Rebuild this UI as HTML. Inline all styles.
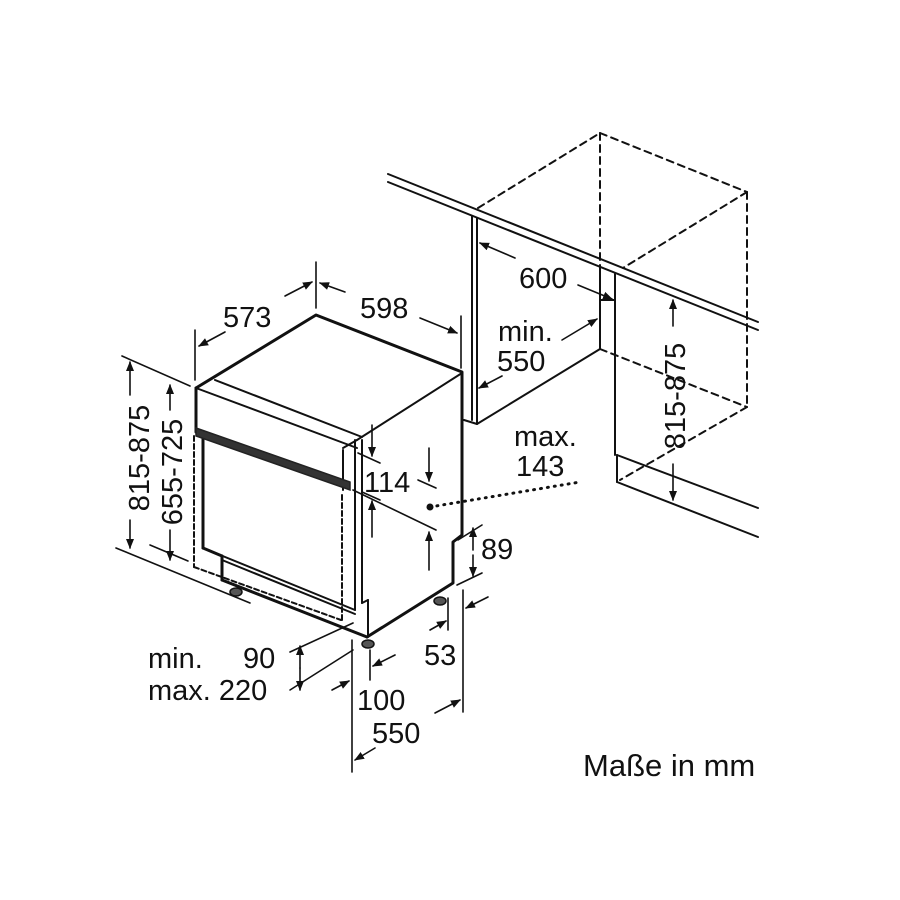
<!DOCTYPE html>
<html><head><meta charset="utf-8"><style>
html,body{margin:0;padding:0;background:#fff;}
svg{display:block}
text{font-family:"Liberation Sans",sans-serif;font-size:29px;fill:#111}
</style></head><body>
<svg width="900" height="900" viewBox="0 0 900 900" xmlns="http://www.w3.org/2000/svg">
<defs>
<marker id="a" markerWidth="10" markerHeight="10" refX="9" refY="5" orient="auto" markerUnits="userSpaceOnUse" viewBox="0 0 10 10">
<path d="M0,1 L10,5 L0,9 Z" fill="#111"/></marker>
</defs>
<g stroke="#111" fill="none" stroke-linecap="round">
<g stroke-width="2">
<line x1="388" y1="174" x2="758" y2="322"/>
<line x1="388" y1="182" x2="758" y2="330"/>
<line x1="472" y1="216" x2="472" y2="420"/>
<line x1="477" y1="218" x2="477" y2="424"/>
<line x1="464" y1="420" x2="477" y2="424"/>
<line x1="477" y1="424" x2="600" y2="349"/>
<line x1="600" y1="268" x2="600" y2="349"/>
<line x1="615" y1="274" x2="615" y2="455"/>
<line x1="600" y1="300" x2="615" y2="300"/>
<line x1="617" y1="455" x2="758" y2="508"/>
<line x1="617" y1="455" x2="617" y2="482"/>
<line x1="617" y1="482" x2="758" y2="537"/>
</g>
<g stroke-width="2" stroke-dasharray="7,5">
<line x1="478" y1="208" x2="600" y2="133"/>
<line x1="600" y1="133" x2="747" y2="192"/>
<line x1="600" y1="133" x2="600" y2="268"/>
<line x1="747" y1="192" x2="747" y2="407"/>
<line x1="747" y1="192" x2="623" y2="268"/>
<line x1="600" y1="349" x2="747" y2="407"/>
<line x1="747" y1="407" x2="620" y2="480"/>
</g>
<g stroke-width="3" stroke-linejoin="round">
<polyline points="196,388 316,315 462,372 462,535 453,542 453,583 367,637"/>
<line x1="196" y1="388" x2="196" y2="432"/>
<line x1="203" y1="438" x2="203" y2="548"/>
<line x1="203" y1="548" x2="222" y2="556"/>
<line x1="222" y1="556" x2="222" y2="580"/>
<line x1="222" y1="580" x2="367" y2="637"/>
</g>
<g stroke-width="2">
<line x1="196" y1="388" x2="357" y2="448"/>
<line x1="215" y1="380" x2="362" y2="437"/>
<line x1="357" y1="440" x2="462" y2="373"/>
<line x1="343" y1="448" x2="357" y2="440"/>
<line x1="355" y1="440" x2="355" y2="610"/>
<line x1="362" y1="440" x2="362" y2="603"/>
<line x1="343" y1="450" x2="343" y2="490"/>
<line x1="362" y1="603" x2="368" y2="600"/>
<line x1="368" y1="600" x2="368" y2="637"/>
<line x1="355" y1="610" x2="203" y2="548"/>
<line x1="222" y1="560" x2="355" y2="614"/>
</g>
<polygon points="196,428 350,482 350,490 196,436" fill="#333" stroke="#222" stroke-width="1.5"/>
<g stroke-width="2" stroke-dasharray="5,3">
<line x1="194" y1="436" x2="194" y2="567"/>
<line x1="194" y1="567" x2="341" y2="620"/>
<line x1="342" y1="495" x2="342" y2="620"/>
</g>
<g fill="#555" stroke="#111" stroke-width="1.5">
<ellipse cx="236" cy="592" rx="6" ry="4"/>
<ellipse cx="368" cy="644" rx="6" ry="4"/>
<ellipse cx="440" cy="601" rx="6" ry="4"/>
</g>
<g stroke-width="1.6">
<line x1="195" y1="330" x2="195" y2="380"/>
<line x1="316" y1="262" x2="316" y2="308"/>
<line x1="461" y1="316" x2="461" y2="368"/>
<line x1="225" y1="332" x2="199" y2="346" marker-end="url(#a)"/>
<line x1="285" y1="296" x2="312" y2="282" marker-end="url(#a)"/>
<line x1="345" y1="292" x2="320" y2="283" marker-end="url(#a)"/>
<line x1="420" y1="318" x2="457" y2="333" marker-end="url(#a)"/>
<line x1="122" y1="356" x2="190" y2="386"/>
<line x1="116" y1="548" x2="250" y2="603"/>
<line x1="150" y1="545" x2="188" y2="561"/>
<line x1="130" y1="395" x2="130" y2="362" marker-end="url(#a)"/>
<line x1="130" y1="520" x2="130" y2="548" marker-end="url(#a)"/>
<line x1="170" y1="410" x2="170" y2="385" marker-end="url(#a)"/>
<line x1="170" y1="530" x2="170" y2="560" marker-end="url(#a)"/>
<line x1="358" y1="453" x2="380" y2="463"/>
<line x1="362" y1="492" x2="380" y2="500"/>
<line x1="372" y1="425" x2="372" y2="456" marker-end="url(#a)"/>
<line x1="372" y1="537" x2="372" y2="501" marker-end="url(#a)"/>
<line x1="418" y1="480" x2="436" y2="488"/>
<line x1="353" y1="490" x2="436" y2="530"/>
<line x1="429" y1="448" x2="429" y2="481" marker-end="url(#a)"/>
<line x1="429" y1="570" x2="429" y2="532" marker-end="url(#a)"/>
<line x1="458" y1="540" x2="482" y2="525"/>
<line x1="457" y1="585" x2="482" y2="573"/>
<line x1="473" y1="550" x2="473" y2="528" marker-end="url(#a)"/>
<line x1="473" y1="555" x2="473" y2="576" marker-end="url(#a)"/>
<line x1="448" y1="598" x2="448" y2="630"/>
<line x1="463" y1="590" x2="463" y2="712"/>
<line x1="430" y1="630" x2="446" y2="621" marker-end="url(#a)"/>
<line x1="488" y1="597" x2="466" y2="608" marker-end="url(#a)"/>
<line x1="352" y1="640" x2="352" y2="772"/>
<line x1="370" y1="650" x2="370" y2="680"/>
<line x1="332" y1="690" x2="349" y2="681" marker-end="url(#a)"/>
<line x1="395" y1="655" x2="373" y2="666" marker-end="url(#a)"/>
<line x1="375" y1="748" x2="355" y2="760" marker-end="url(#a)"/>
<line x1="435" y1="713" x2="460" y2="700" marker-end="url(#a)"/>
<line x1="290" y1="652" x2="353" y2="623"/>
<line x1="290" y1="690" x2="353" y2="650"/>
<line x1="300" y1="668" x2="300" y2="646" marker-end="url(#a)"/>
<line x1="300" y1="668" x2="300" y2="690" marker-end="url(#a)"/>
<line x1="515" y1="258" x2="480" y2="243" marker-end="url(#a)"/>
<line x1="578" y1="285" x2="612" y2="299" marker-end="url(#a)"/>
<line x1="562" y1="340" x2="597" y2="319" marker-end="url(#a)"/>
<line x1="502" y1="376" x2="479" y2="388" marker-end="url(#a)"/>
<line x1="673" y1="326" x2="673" y2="300" marker-end="url(#a)"/>
<line x1="673" y1="464" x2="673" y2="500" marker-end="url(#a)"/>
</g>
<line x1="430" y1="507" x2="580" y2="482" stroke-width="3" stroke-dasharray="1,6"/>
</g>
<circle cx="430" cy="507" r="3.5" fill="#111"/>
<text x="223" y="327">573</text>
<text x="360" y="318">598</text>
<text x="519" y="288">600</text>
<text x="498" y="341">min.</text>
<text x="497" y="371">550</text>
<text x="514" y="446">max.</text>
<text x="516" y="476">143</text>
<text x="364" y="492">114</text>
<text x="481" y="559">89</text>
<text x="424" y="665">53</text>
<text x="148" y="668">min.</text>
<text x="243" y="668">90</text>
<text x="148" y="700">max. 220</text>
<text x="357" y="710">100</text>
<text x="372" y="743">550</text>
<text x="583" y="776" style="font-size:31px">Maße in mm</text>
<text transform="translate(149,458) rotate(-90)" text-anchor="middle">815-875</text>
<text transform="translate(182,472) rotate(-90)" text-anchor="middle">655-725</text>
<text transform="translate(685,396) rotate(-90)" text-anchor="middle">815-875</text>
</svg>
</body></html>
